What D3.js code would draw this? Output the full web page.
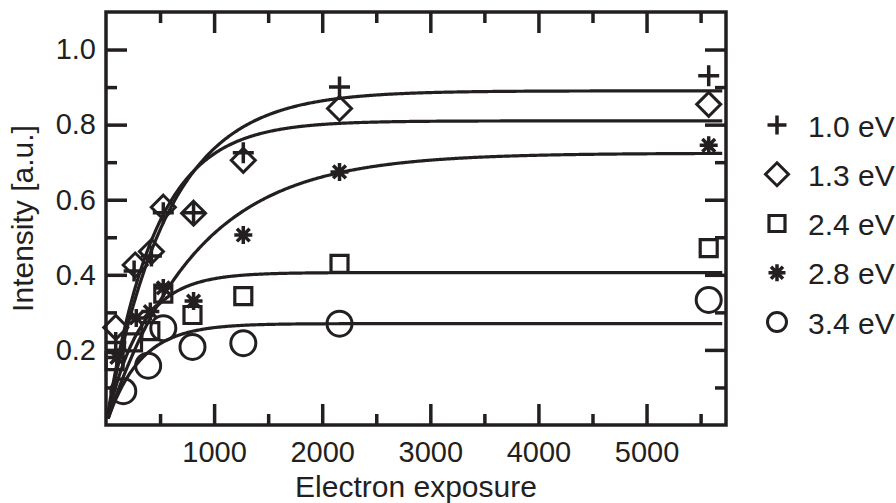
<!DOCTYPE html>
<html>
<head>
<meta charset="utf-8">
<script src="https://cdn.jsdelivr.net/npm/d3@7"></script>
<style>
  html, body { margin: 0; padding: 0; background: #ffffff; }
  svg { display: block; }
  text { font-family: "Liberation Sans", Arial, Helvetica, sans-serif; fill: #231f20; }
</style>
</head>
<body>
<svg id="chart" width="896" height="503"></svg>
<script>
// Photon energies (legend labels) and the marker used for each series
const energies = ["1.0 eV", "1.3 eV", "2.4 eV", "2.8 eV", "3.4 eV"];
const markers  = ["plus", "diamond", "square", "asterisk", "circle"];

// Measured intensity vs electron exposure, one pair of arrays per series
const exp10 = [90, 260, 420, 530, 810, 1270, 2160, 5575];
const int10 = [0.22, 0.41, 0.45, 0.565, 0.565, 0.725, 0.90, 0.93];

const exp13 = [90, 270, 420, 530, 810, 1270, 2160, 5575];
const int13 = [0.26, 0.426, 0.462, 0.58, 0.564, 0.705, 0.843, 0.854];

const exp24 = [80, 250, 410, 530, 800, 1270, 2160, 5575];
const int24 = [0.17, 0.22, 0.25, 0.35, 0.293, 0.343, 0.429, 0.471];

const exp28 = [100, 280, 410, 530, 810, 1270, 2160, 5575];
const int28 = [0.18, 0.285, 0.302, 0.365, 0.33, 0.506, 0.674, 0.745];

const exp34 = [160, 390, 530, 800, 1270, 2160, 5575];
const int34 = [0.09, 0.158, 0.258, 0.208, 0.218, 0.27, 0.333];

// Saturation fits I = Imax * (1 - exp(-D / tau)) for each series
const fitImax = [0.89, 0.81, 0.406, 0.724, 0.27];
const fitTau  = [570, 450, 312, 820, 310];
const fitRange = [20, 5700];

// Axis ticks
const xMajorTicks = [1000, 2000, 3000, 4000, 5000];
const xMinorTicks = [500, 1500, 2500, 3500, 4500, 5500];
const yMajorTicks = [0.2, 0.4, 0.6, 0.8, 1.0];
const yMinorTicks = [0.1, 0.3, 0.5, 0.7, 0.9];

const seriesX = [exp10, exp13, exp24, exp28, exp34];
const seriesY = [int10, int13, int24, int28, int34];

const ink = "#231f20";
const svg = d3.select("#chart");

const plot = { left: 106, right: 726, top: 12, bottom: 425 };
const x = d3.scaleLinear().domain([0, 5735]).range([plot.left, plot.right]);
const y = d3.scaleLinear().domain([0, 1.1]).range([plot.bottom, plot.top]);

// Marker shapes, sized in pixels (half-extent)
const shapes = {
  plus: {
    draw(ctx, r) { ctx.moveTo(-r, 0); ctx.lineTo(r, 0); ctx.moveTo(0, -r); ctx.lineTo(0, r); }
  },
  diamond: {
    draw(ctx, r) { ctx.moveTo(0, -r); ctx.lineTo(r, 0); ctx.lineTo(0, r); ctx.lineTo(-r, 0); ctx.closePath(); }
  },
  square: {
    draw(ctx, r) { ctx.rect(-r, -r, 2 * r, 2 * r); }
  },
  circle: {
    draw(ctx, r) { ctx.moveTo(r, 0); ctx.arc(0, 0, r, 0, 2 * Math.PI); }
  },
  asterisk: {
    draw(ctx, r) {
      const d = r * Math.SQRT1_2;
      ctx.moveTo(-r, 0); ctx.lineTo(r, 0);
      ctx.moveTo(0, -r); ctx.lineTo(0, r);
      ctx.moveTo(-d, -d); ctx.lineTo(d, d);
      ctx.moveTo(-d, d); ctx.lineTo(d, -d);
    }
  }
};
const plotSize = { plus: 10.5, diamond: 12, square: 8.5, circle: 12.5, asterisk: 9 };
const legendSize = { plus: 9.5, diamond: 11.5, square: 8, circle: 9.5, asterisk: 8.5 };
const strokeW = { plus: 3.5, diamond: 3, square: 3.2, circle: 3, asterisk: 3.5 };

function symbolPath(name, r) {
  return d3.symbol().type(shapes[name]).size(r)();
}

// Fit curves
const line = d3.line().x(d => x(d[0])).y(d => y(d[1])).curve(d3.curveLinear);
const samples = d3.range(fitRange[0], fitRange[1] + 1, 10);
fitImax.forEach((imax, i) => {
  const pts = samples.map(D => [D, imax * (1 - Math.exp(-D / fitTau[i]))]);
  svg.append("path")
    .attr("d", line(pts))
    .attr("fill", "none")
    .attr("stroke", ink)
    .attr("stroke-width", 3.2);
});

// Data markers
seriesX.forEach((xs, i) => {
  const m = markers[i];
  svg.append("g").selectAll("path")
    .data(xs.map((v, j) => [v, seriesY[i][j]]))
    .join("path")
    .attr("transform", d => `translate(${x(d[0])},${y(d[1])})`)
    .attr("d", symbolPath(m, plotSize[m]))
    .attr("fill", "none")
    .attr("stroke", ink)
    .attr("stroke-width", strokeW[m]);
});

// Axes with inward ticks on all four sides
const fontSize = 29;
function styleAxis(g) {
  g.select(".domain").remove();
  g.selectAll(".tick line").attr("stroke", ink).attr("stroke-width", 3.5);
  g.selectAll(".tick text").attr("font-size", fontSize).attr("fill", ink)
    .attr("font-family", '"Liberation Sans", Arial, Helvetica, sans-serif');
}

svg.append("g").attr("transform", `translate(0,${plot.bottom})`)
  .call(d3.axisBottom(x).tickValues(xMajorTicks).tickSize(-21).tickPadding(16).tickFormat(d3.format("d")))
  .call(styleAxis);
svg.append("g").attr("transform", `translate(0,${plot.bottom})`)
  .call(d3.axisBottom(x).tickValues(xMinorTicks).tickSize(-11).tickFormat(""))
  .call(styleAxis);
svg.append("g").attr("transform", `translate(0,${plot.top})`)
  .call(d3.axisTop(x).tickValues(xMajorTicks).tickSize(-21).tickFormat(""))
  .call(styleAxis);
svg.append("g").attr("transform", `translate(0,${plot.top})`)
  .call(d3.axisTop(x).tickValues(xMinorTicks).tickSize(-11).tickFormat(""))
  .call(styleAxis);

svg.append("g").attr("transform", `translate(${plot.left},0)`)
  .call(d3.axisLeft(y).tickValues(yMajorTicks).tickSize(-21).tickPadding(10).tickFormat(d3.format(".1f")))
  .call(styleAxis);
svg.append("g").attr("transform", `translate(${plot.left},0)`)
  .call(d3.axisLeft(y).tickValues(yMinorTicks).tickSize(-11).tickFormat(""))
  .call(styleAxis);
svg.append("g").attr("transform", `translate(${plot.right},0)`)
  .call(d3.axisRight(y).tickValues(yMajorTicks).tickSize(-21).tickFormat(""))
  .call(styleAxis);
svg.append("g").attr("transform", `translate(${plot.right},0)`)
  .call(d3.axisRight(y).tickValues(yMinorTicks).tickSize(-11).tickFormat(""))
  .call(styleAxis);

// Frame
svg.append("rect")
  .attr("x", plot.left).attr("y", plot.top)
  .attr("width", plot.right - plot.left).attr("height", plot.bottom - plot.top)
  .attr("fill", "none").attr("stroke", ink).attr("stroke-width", 3.5);

// Axis titles
svg.append("text")
  .attr("x", (plot.left + plot.right) / 2).attr("y", 497)
  .attr("text-anchor", "middle").attr("font-size", 30)
  .text("Electron exposure");
svg.append("text")
  .attr("transform", `translate(33,${(plot.top + plot.bottom) / 2}) rotate(-90)`)
  .attr("text-anchor", "middle").attr("font-size", 30)
  .text("Intensity [a.u.]");

// Legend
const legendY = d3.scalePoint().domain(energies).range([125, 322]);
const legend = svg.append("g");
energies.forEach((label, i) => {
  const m = markers[i];
  const cy = legendY(label);
  legend.append("path")
    .attr("transform", `translate(777,${cy})`)
    .attr("d", symbolPath(m, legendSize[m]))
    .attr("fill", "none").attr("stroke", ink).attr("stroke-width", strokeW[m]);
  legend.append("text")
    .attr("x", 808).attr("y", cy + 1)
    .attr("dominant-baseline", "central")
    .attr("font-size", 30)
    .text(label);
});
</script>
</body>
</html>
